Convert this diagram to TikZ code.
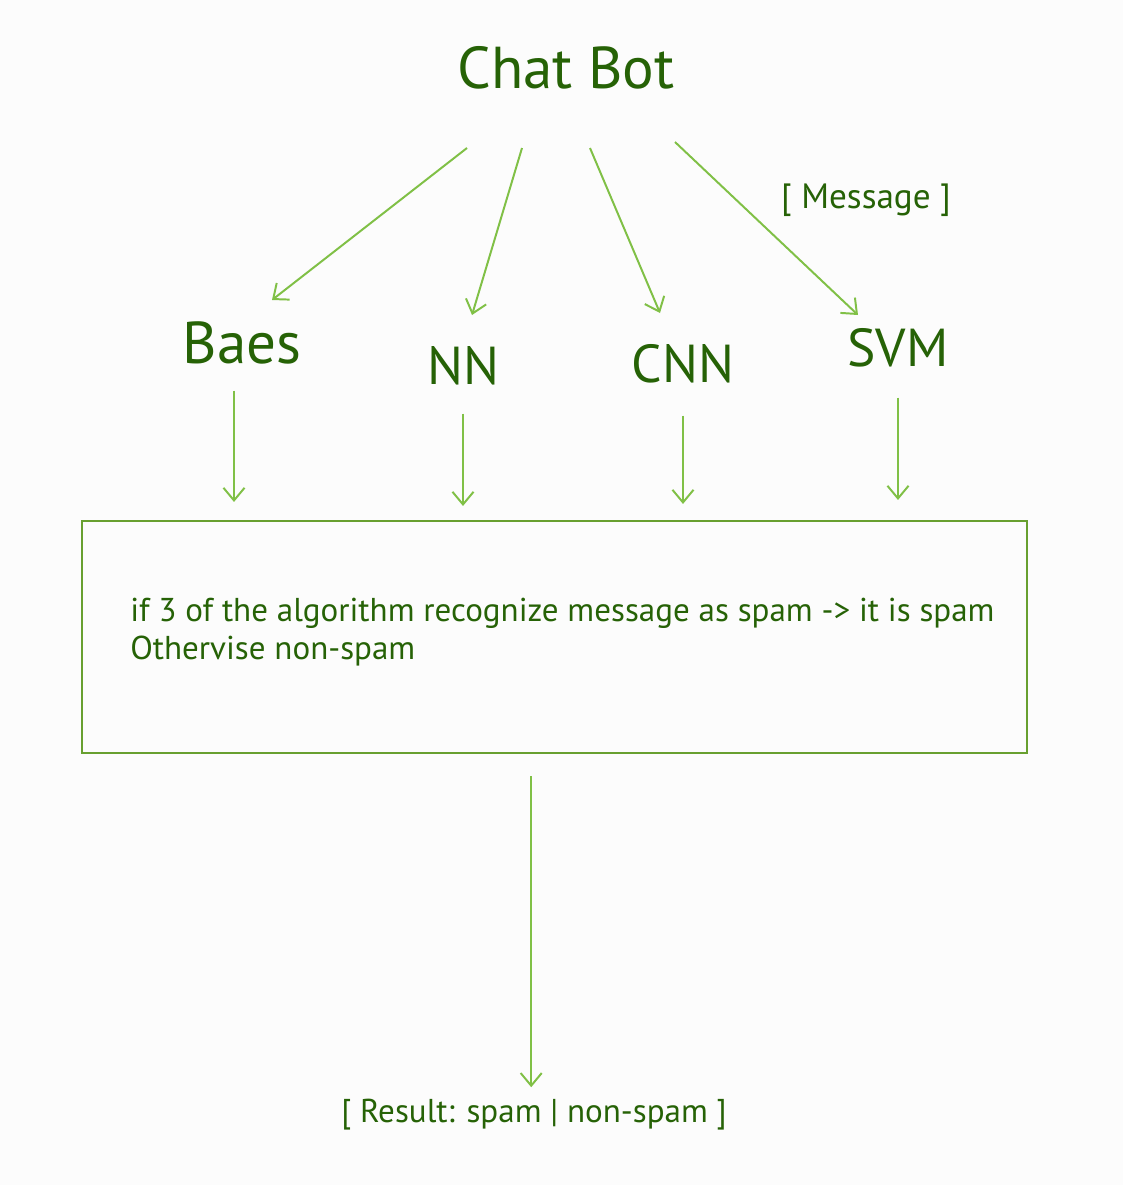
\documentclass[tikz,border=0pt]{standalone}
\usepackage{fontspec}
\setmainfont{PT Sans}
\usetikzlibrary{arrows.meta}

\definecolor{inkgreen}{RGB}{38,98,6}
\definecolor{linegreen}{RGB}{128,192,70}
\definecolor{boxgreen}{RGB}{104,160,48}

\begin{document}
\begin{tikzpicture}[x=0.025cm, y=-0.025cm]
        \tikzset{algo/.style = {text=inkgreen, inner sep=0pt, font=\fontsize{38}{44}\selectfont},
                 note/.style = {text=inkgreen, inner sep=0pt, font=\fontsize{23.5}{27}\selectfont},
                 flow/.style = {-{Straight Barb[length=9pt,width=15pt]}, draw=linegreen, line width=1.4pt}};
        \fill[gray!2] (0,0) rectangle (1123,1185);
        % sender and the four classifiers
        \node[algo, font=\fontsize{42}{50}\selectfont] (chat) at (566,68) {Chat Bot};
        \node[note, font=\fontsize{25}{30}\selectfont] (msg) at (866,200) {[ Message ]};
        \node[algo, font=\fontsize{42}{50}\selectfont] (baes) at (242,343) {Baes};
        \node[algo] (nn) at (463,366) {NN};
        \node[algo] (cnn) at (683,364) {CNN};
        \node[algo] (svm) at (898,348) {SVM};
        \coordinate (out1) at (467,148);
        \coordinate (out2) at (522,148);
        \coordinate (out3) at (590,148);
        \coordinate (out4) at (675,142);
        \coordinate (in1) at (272,300);
        \coordinate (in2) at (472,315);
        \coordinate (in3) at (660,313);
        \coordinate (in4) at (858,315);
        \draw[flow] (out1) to (in1);
        \draw[flow] (out2) to (in2);
        \draw[flow] (out3) to (in3);
        \draw[flow] (out4) to (in4);
        % voting box
        \node[draw=boxgreen, line width=1.4pt, minimum width=23.625cm, minimum height=5.8cm] (vote) at (554.5,637) {};
        \node[note, align=left, anchor=west] (rule) at (130,632)
                {if 3 of the algorithm recognize message as spam -> it is spam\\Othervise non-spam};
        \draw[flow, shorten <=0.65cm, shorten >=0.45cm] ([xshift=-0.2cm]baes.south) to ([xshift=-0.2cm]baes.south |- vote.north);
        \draw[flow, shorten <=0.7cm, shorten >=0.35cm] (nn.south) to (nn.south |- vote.north);
        \draw[flow, shorten <=0.8cm, shorten >=0.4cm] (cnn.south) to (cnn.south |- vote.north);
        \draw[flow, shorten <=0.75cm, shorten >=0.5cm] (svm.south) to (svm.south |- vote.north);
        % outcome
        \node[note] (result) at (534,1115) {[ Result: spam | non-spam ]};
        \draw[flow, shorten <=0.55cm, shorten >=0.3cm] ([xshift=-2pt]result.north |- vote.south) to ([xshift=-2pt]result.north);
    \end{tikzpicture}
\end{document}
